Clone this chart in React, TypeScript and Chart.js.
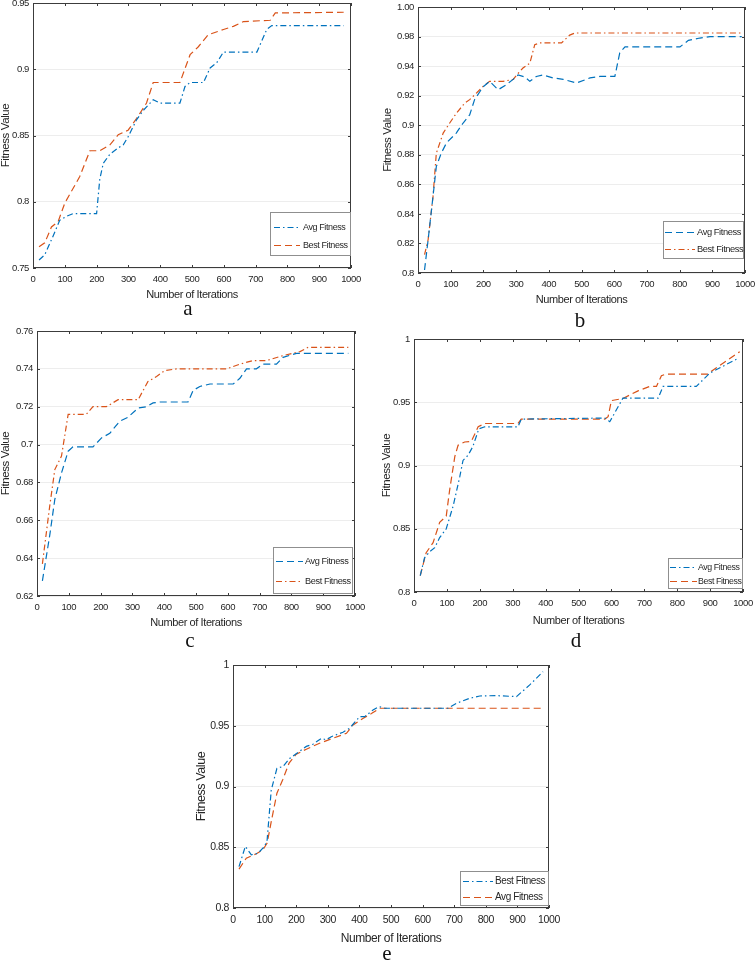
import React, { useEffect, useRef } from "react";
import { Chart, registerables } from "chart.js";

Chart.register(...registerables);

// ---------------- data ----------------
const xTickValues = [0, 100, 200, 300, 400, 500, 600, 700, 800, 900, 1000];
const xTickLabels = ["0", "100", "200", "300", "400", "500", "600", "700", "800", "900", "1000"];

// panel a
const aYTicks = [0.75, 0.8, 0.85, 0.9, 0.95];
const aYLabels = ["0.75", "0.8", "0.85", "0.9", "0.95"];
const aAvgX = [19, 37, 63, 84, 105, 126, 200, 210, 221, 242, 268, 284, 299, 326, 347, 378, 399, 462, 478, 494, 536, 557, 578, 599, 704, 735, 751, 977];
const aAvgY = [0.756, 0.76, 0.774, 0.786, 0.789, 0.791, 0.791, 0.817, 0.829, 0.836, 0.8406, 0.843, 0.849, 0.862, 0.869, 0.877, 0.8745, 0.8745, 0.887, 0.89, 0.89, 0.901, 0.905, 0.913, 0.913, 0.93, 0.933, 0.933];
const aBestX = [19, 37, 58, 79, 100, 147, 179, 210, 242, 268, 299, 326, 357, 378, 462, 494, 520, 551, 599, 630, 662, 746, 762, 977];
const aBestY = [0.766, 0.769, 0.781, 0.785, 0.799, 0.819, 0.8385, 0.8385, 0.843, 0.8506, 0.854, 0.863, 0.8745, 0.89, 0.89, 0.911, 0.917, 0.926, 0.93, 0.9324, 0.936, 0.937, 0.9425, 0.943];

// panel b (tick labels as printed in the original figure)
const bYTicks = [0.8, 0.82, 0.84, 0.86, 0.88, 0.9, 0.92, 0.94, 0.96, 0.98];
const bYLabels = ["0.8", "0.82", "0.84", "0.86", "0.88", "0.9", "0.92", "0.94", "0.98", "1.00"];
const bAvgX = [20, 31, 46, 56, 71, 87, 117, 138, 158, 173, 199, 219, 245, 270, 291, 306, 327, 342, 362, 383, 413, 444, 485, 526, 556, 602, 617, 633, 801, 827, 862, 893, 990];
const bAvgY = [0.802, 0.8226, 0.852, 0.872, 0.881, 0.888, 0.8947, 0.9015, 0.907, 0.9173, 0.926, 0.9297, 0.924, 0.9274, 0.931, 0.934, 0.9326, 0.9297, 0.933, 0.934, 0.932, 0.931, 0.9286, 0.932, 0.933, 0.933, 0.949, 0.953, 0.953, 0.9574, 0.959, 0.96, 0.96];
const bBestX = [20, 31, 46, 56, 77, 97, 117, 143, 158, 179, 199, 219, 260, 291, 306, 321, 342, 357, 372, 439, 464, 480, 990];
const bBestY = [0.8124, 0.8226, 0.852, 0.881, 0.8947, 0.9015, 0.908, 0.915, 0.9173, 0.9218, 0.9263, 0.9297, 0.9297, 0.931, 0.935, 0.9387, 0.942, 0.9545, 0.9557, 0.9557, 0.961, 0.9624, 0.9624];

// panel c
const cYTicks = [0.62, 0.64, 0.66, 0.68, 0.7, 0.72, 0.74, 0.76];
const cYLabels = ["0.62", "0.64", "0.66", "0.68", "0.7", "0.72", "0.74", "0.76"];
const cAvgX = [17, 40, 56, 77, 98, 113, 176, 203, 229, 260, 286, 318, 344, 365, 386, 475, 491, 512, 544, 617, 638, 659, 690, 711, 753, 774, 816, 979];
const cAvgY = [0.628, 0.652, 0.671, 0.685, 0.6965, 0.6988, 0.6988, 0.7035, 0.706, 0.7123, 0.7144, 0.7193, 0.72, 0.722, 0.7225, 0.7225, 0.7286, 0.7307, 0.732, 0.732, 0.735, 0.74, 0.74, 0.7425, 0.7425, 0.7461, 0.7482, 0.7482];
const cBestX = [17, 40, 56, 77, 98, 155, 176, 218, 255, 318, 349, 376, 402, 439, 596, 638, 680, 722, 774, 827, 853, 979];
const cBestY = [0.637, 0.6675, 0.6868, 0.6939, 0.716, 0.716, 0.72, 0.72, 0.7237, 0.7237, 0.7333, 0.736, 0.7391, 0.74, 0.74, 0.7425, 0.7444, 0.7444, 0.747, 0.7491, 0.7514, 0.7514];

// panel d
const dYTicks = [0.8, 0.85, 0.9, 0.95, 1];
const dYLabels = ["0.8", "0.85", "0.9", "0.95", "1"];
const dAvgX = [19, 32, 48, 63, 78, 98, 119, 139, 149, 164, 179, 197, 215, 316, 326, 580, 595, 635, 742, 757, 858, 899, 980];
const dAvgY = [0.813, 0.827, 0.832, 0.835, 0.843, 0.85, 0.868, 0.891, 0.904, 0.908, 0.915, 0.929, 0.9306, 0.9306, 0.9367, 0.9375, 0.9346, 0.9532, 0.9532, 0.9625, 0.9625, 0.973, 0.984];
const dBestX = [19, 37, 58, 78, 98, 108, 124, 134, 154, 174, 195, 215, 316, 326, 580, 590, 600, 635, 681, 716, 737, 752, 767, 894, 904, 990];
const dBestY = [0.813, 0.831, 0.839, 0.855, 0.86, 0.88, 0.907, 0.916, 0.9186, 0.919, 0.9306, 0.9332, 0.9332, 0.9367, 0.9367, 0.9386, 0.9513, 0.953, 0.959, 0.9625, 0.9625, 0.971, 0.9723, 0.9723, 0.9745, 0.99];

// panel e
const eYTicks = [0.8, 0.85, 0.9, 0.95, 1];
const eYLabels = ["0.8", "0.85", "0.9", "0.95", "1"];
const eBestX = [19, 39, 58, 79, 100, 108, 121, 139, 158, 179, 200, 232, 253, 280, 295, 311, 348, 369, 401, 417, 443, 462, 480, 680, 707, 749, 781, 833, 897, 939, 981];
const eBestY = [0.834, 0.8507, 0.8438, 0.845, 0.8507, 0.856, 0.897, 0.915, 0.9164, 0.923, 0.927, 0.933, 0.9348, 0.9397, 0.9384, 0.941, 0.9447, 0.948, 0.9575, 0.9575, 0.963, 0.9658, 0.9644, 0.9644, 0.9685, 0.9726, 0.9745, 0.9748, 0.974, 0.9836, 0.9945];
const eAvgX = [19, 42, 74, 95, 108, 121, 139, 158, 177, 200, 232, 274, 316, 359, 380, 411, 438, 464, 981];
const eAvgY = [0.832, 0.841, 0.8447, 0.848, 0.8534, 0.871, 0.8945, 0.906, 0.919, 0.9266, 0.9307, 0.9356, 0.9397, 0.9438, 0.9507, 0.956, 0.96, 0.9644, 0.9644];

// ---------------- styles / layout ----------------
const BLUE = "#0072BD";
const ORANGE = "#D95319";
const DASH = [7, 4];
const DASHDOT = [6, 3, 1.5, 3];
const SANS = "'Liberation Sans', Arial, Helvetica, sans-serif";
const TEXT = "#262626";
const SPACING = "-0.4px";

type Series = { label: string; xs: number[]; ys: number[]; color: string; dash: number[] };
type Panel = {
  canvas: { x: number; y: number; w: number; h: number };
  plot: { l: number; t: number; r: number; b: number };
  yTicks: number[];
  yLabels: string[];
  series: Series[];
  legend: { w: number; h: number; ri: number; bi: number; rows: number[]; s0: number; s1: number; tx: number; fs: number };
  tickFs: number;
  xTitleFs: number;
  yTitleFs: number;
  letter: { text: string; x: number; y: number };
};

const panels: Panel[] = [
  {
    canvas: { x: 0, y: 0, w: 368, h: 300 },
    plot: { l: 33, t: 3, r: 351, b: 268 },
    yTicks: aYTicks, yLabels: aYLabels,
    series: [
      { label: "Avg Fitness", xs: aAvgX, ys: aAvgY, color: BLUE, dash: DASHDOT },
      { label: "Best Fitness", xs: aBestX, ys: aBestY, color: ORANGE, dash: DASH },
    ],
    legend: { w: 80, h: 43, ri: 1, bi: 13, rows: [15, 33], s0: 4, s1: 30, tx: 33, fs: 9 },
    tickFs: 9.5, xTitleFs: 11, yTitleFs: 11.5,
    letter: { text: "a", x: 188, y: 308 },
  },
  {
    canvas: { x: 382, y: 0, w: 373, h: 305 },
    plot: { l: 418, t: 7, r: 745, b: 273 },
    yTicks: bYTicks, yLabels: bYLabels,
    series: [
      { label: "Avg Fitness", xs: bAvgX, ys: bAvgY, color: BLUE, dash: DASH },
      { label: "Best Fitness", xs: bBestX, ys: bBestY, color: ORANGE, dash: DASHDOT },
    ],
    legend: { w: 80, h: 37, ri: 2, bi: 15, rows: [11, 28], s0: 2, s1: 32, tx: 34, fs: 9.3 },
    tickFs: 9.5, xTitleFs: 11, yTitleFs: 11.5,
    letter: { text: "b", x: 580, y: 320 },
  },
  {
    canvas: { x: 0, y: 315, w: 372, h: 313 },
    plot: { l: 37, t: 331, r: 355, b: 596 },
    yTicks: cYTicks, yLabels: cYLabels,
    series: [
      { label: "Avg Fitness", xs: cAvgX, ys: cAvgY, color: BLUE, dash: DASH },
      { label: "Best Fitness", xs: cBestX, ys: cBestY, color: ORANGE, dash: DASHDOT },
    ],
    legend: { w: 79, h: 46, ri: 3, bi: 3, rows: [14, 34], s0: 3, s1: 30, tx: 32, fs: 9.2 },
    tickFs: 9.5, xTitleFs: 11, yTitleFs: 11.5,
    letter: { text: "c", x: 190, y: 640 },
  },
  {
    canvas: { x: 381, y: 325, w: 374, h: 301 },
    plot: { l: 414, t: 339, r: 743, b: 592 },
    yTicks: dYTicks, yLabels: dYLabels,
    series: [
      { label: "Avg Fitness", xs: dAvgX, ys: dAvgY, color: BLUE, dash: DASHDOT },
      { label: "Best Fitness", xs: dBestX, ys: dBestY, color: ORANGE, dash: DASH },
    ],
    legend: { w: 74, h: 30, ri: 1, bi: 4, rows: [9, 23], s0: 2, s1: 29, tx: 30, fs: 8.8 },
    tickFs: 9.5, xTitleFs: 11, yTitleFs: 11.5,
    letter: { text: "d", x: 576, y: 640 },
  },
  {
    canvas: { x: 195, y: 650, w: 370, h: 295 },
    plot: { l: 233, t: 665, r: 549, b: 908 },
    yTicks: eYTicks, yLabels: eYLabels,
    series: [
      { label: "Best Fitness", xs: eBestX, ys: eBestY, color: BLUE, dash: DASHDOT },
      { label: "Avg Fitness", xs: eAvgX, ys: eAvgY, color: ORANGE, dash: DASH },
    ],
    legend: { w: 88, h: 34, ri: 1, bi: 3, rows: [10, 26], s0: 3, s1: 33, tx: 35, fs: 10 },
    tickFs: 10.5, xTitleFs: 12, yTitleFs: 12.5,
    letter: { text: "e", x: 387, y: 953 },
  },
];

function makeBoxPlugin(p: Panel) {
  return {
    id: "matlabBox",
    beforeDraw(chart: any) {
      try {
        chart.ctx.letterSpacing = SPACING;
      } catch (e) {
        /* ignore */
      }
    },
    afterDatasetsDraw(chart: any) {
      const { ctx, chartArea } = chart;
      const { left, right, top, bottom } = chartArea;
      const xs = chart.scales.x;
      const ys = chart.scales.y;
      ctx.save();
      ctx.setLineDash([]);
      ctx.strokeStyle = "#3c3c3c";
      ctx.lineWidth = 1;
      ctx.strokeRect(Math.round(left) + 0.5, Math.round(top) + 0.5, Math.round(right - left) - 1, Math.round(bottom - top) - 1);
      const tl = 3;
      ctx.beginPath();
      xs.ticks.forEach((t: any) => {
        const px = Math.round(xs.getPixelForValue(t.value)) + 0.5;
        ctx.moveTo(px, bottom); ctx.lineTo(px, bottom - tl);
        ctx.moveTo(px, top); ctx.lineTo(px, top + tl);
      });
      ys.ticks.forEach((t: any) => {
        const py = Math.round(ys.getPixelForValue(t.value)) + 0.5;
        ctx.moveTo(left, py); ctx.lineTo(left + tl, py);
        ctx.moveTo(right, py); ctx.lineTo(right - tl, py);
      });
      ctx.stroke();

      // legend
      const lg = p.legend;
      const bx = Math.round(right - lg.ri - lg.w);
      const by = Math.round(bottom - lg.bi - lg.h);
      ctx.fillStyle = "#ffffff";
      ctx.fillRect(bx, by, lg.w, lg.h);
      ctx.strokeStyle = "#8f8f8f";
      ctx.strokeRect(bx + 0.5, by + 0.5, lg.w, lg.h);
      chart.data.datasets.forEach((ds: any, i: number) => {
        const yy = by + lg.rows[i] + 0.5;
        ctx.setLineDash(ds.borderDash || []);
        ctx.strokeStyle = ds.borderColor;
        ctx.lineWidth = 1.2;
        ctx.beginPath();
        ctx.moveTo(bx + lg.s0, yy);
        ctx.lineTo(bx + lg.s1, yy);
        ctx.stroke();
        ctx.setLineDash([]);
        ctx.fillStyle = TEXT;
        ctx.font = `normal normal ${lg.fs}px ${SANS}`;
        ctx.textBaseline = "middle";
        ctx.textAlign = "left";
        ctx.fillText(ds.label, bx + lg.tx, yy);
      });
      ctx.restore();
    },
  };
}

function PanelChart({ p }: { p: Panel }) {
  const ref = useRef<HTMLCanvasElement | null>(null);
  useEffect(() => {
    if (!ref.current) return;
    const yW = p.plot.l - p.canvas.x;
    const xH = p.canvas.y + p.canvas.h - p.plot.b;
    const chart = new Chart(ref.current, {
      type: "line",
      data: {
        datasets: p.series.map((s) => ({
          label: s.label,
          data: s.xs.map((x, i) => ({ x, y: s.ys[i] })),
          borderColor: s.color,
          backgroundColor: s.color,
          borderDash: s.dash,
          borderWidth: 1.2,
          pointRadius: 0,
          fill: false,
          tension: 0,
        })),
      },
      options: {
        responsive: false,
        animation: false,
        devicePixelRatio: 1,
        layout: {
          padding: {
            top: p.plot.t - p.canvas.y,
            right: p.canvas.x + p.canvas.w - p.plot.r,
            left: 0,
            bottom: 0,
          },
        },
        plugins: {
          legend: { display: false },
          tooltip: { enabled: false },
        },
        scales: {
          x: {
            type: "linear",
            min: 0,
            max: 1000,
            afterBuildTicks: (s: any) => {
              s.ticks = xTickValues.map((v) => ({ value: v }));
            },
            afterFit: (s: any) => {
              s.height = xH;
              s.paddingLeft = 0;
              s.paddingRight = 0;
            },
            ticks: {
              autoSkip: false,
              maxRotation: 0,
              padding: 7,
              color: TEXT,
              font: { family: SANS, size: p.tickFs, lineHeight: 1 },
              callback: (_v: any, i: number) => xTickLabels[i],
            },
            grid: { display: false, drawTicks: false },
            border: { display: false },
            title: {
              display: true,
              text: "Number of Iterations",
              color: TEXT,
              padding: 0,
              font: { family: SANS, size: p.xTitleFs, lineHeight: 1 },
            },
          },
          y: {
            type: "linear",
            min: p.yTicks[0],
            max: p.yTicks[p.yTicks.length - 1],
            afterBuildTicks: (s: any) => {
              s.ticks = p.yTicks.map((v) => ({ value: v }));
            },
            afterFit: (s: any) => {
              s.width = yW;
              s.paddingTop = 0;
              s.paddingBottom = 0;
            },
            ticks: {
              autoSkip: false,
              padding: 4,
              color: TEXT,
              font: { family: SANS, size: p.tickFs, lineHeight: 1 },
              callback: (_v: any, i: number) => p.yLabels[i],
            },
            grid: { color: "#ededed", lineWidth: 1, drawTicks: false },
            border: { display: false },
            title: {
              display: true,
              text: "Fitness Value",
              color: TEXT,
              padding: 0,
              font: { family: SANS, size: p.yTitleFs, lineHeight: 1 },
            },
          },
        },
      } as any,
      plugins: [makeBoxPlugin(p)],
    });
    return () => chart.destroy();
  }, [p]);
  return (
    <canvas
      ref={ref}
      width={p.canvas.w}
      height={p.canvas.h}
      style={{ position: "absolute", left: p.canvas.x, top: p.canvas.y, width: p.canvas.w, height: p.canvas.h }}
    />
  );
}

export default function App() {
  return (
    <div
      style={{
        position: "absolute",
        left: 0,
        top: 0,
        width: 755,
        height: 961,
        background: "#ffffff",
        overflow: "hidden",
      }}
    >
      {panels.map((p, i) => (
        <PanelChart key={i} p={p} />
      ))}
      {panels.map((p, i) => (
        <div
          key={"l" + i}
          style={{
            position: "absolute",
            left: p.letter.x,
            top: p.letter.y,
            transform: "translate(-50%, -50%)",
            fontFamily: "'Liberation Serif', 'Times New Roman', serif",
            fontSize: 21,
            lineHeight: 1,
            color: "#111",
          }}
        >
          {p.letter.text}
        </div>
      ))}
    </div>
  );
}
